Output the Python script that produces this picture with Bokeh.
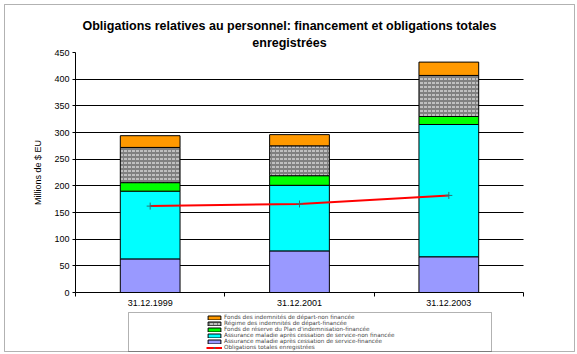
import numpy as np
from bokeh.plotting import figure
from bokeh.models import Range1d, FixedTicker, Legend, LegendItem, BoxAnnotation, Label
from bokeh.embed import file_html
from bokeh.resources import INLINE

# ---- data ----
categories = ["31.12.1999", "31.12.2001", "31.12.2003"]
assurance_financee = [63, 78, 67]
assurance_non_financee = [127, 123, 248]
fonds_reserve = [16, 18, 15]
regime_indemnites = [66, 56, 77]
fonds_indemnites_non_financee = [22, 21, 25]
obligations_totales = [162, 166, 182]
y_ticks = [0, 50, 100, 150, 200, 250, 300, 350, 400, 450]

labels = [
    "Assurance maladie après cessation de service-financée",
    "Assurance maladie après cessation de service-non financée",
    "Fonds de réserve du Plan d'indemnisation-financée",
    "Régime des indemnités de départ-financée",
    "Fonds des indemnités de départ-non financée",
]
line_label = "Obligations totales enregistrées"
title_lines = ["Obligations relatives au personnel: financement et obligations totales",
               "enregistrées"]

FONT = "Liberation Sans"
series = [assurance_financee, assurance_non_financee, fonds_reserve,
          regime_indemnites, fonds_indemnites_non_financee]
colors = ["#9999FF", "#00FFFF", "#00FF00", "#808080", "#FF9900"]
hatches = [" ", " ", " ", "horizontal_dash", " "]

n = len(categories)
x = [2 * i + 1 for i in range(n)]

# The plot frame covers the whole canvas; the value axes sit inside it.
W, H = 577, 354
ax_left, ax_right, ax_top, ax_bottom = 75, 523, 52, 292   # pixel box of the value area
ppx = (ax_right - ax_left) / (2.0 * n)
ppy = (ax_bottom - ax_top) / float(y_ticks[-1])
x_range = Range1d(-ax_left / ppx, 2 * n + (W - ax_right) / ppx)
y_range = Range1d(-(H - ax_bottom) / ppy, y_ticks[-1] + ax_top / ppy)

p = figure(width=W, height=H, x_range=x_range, y_range=y_range,
           output_backend="svg", toolbar_location=None, min_border=0,
           min_border_left=0, min_border_right=0, min_border_top=0,
           min_border_bottom=0, title=None)
p.outline_line_color = None
p.background_fill_color = "white"
p.border_fill_color = "white"

# chart border and legend frame
p.add_layout(BoxAnnotation(left=4, right=574, top=4, bottom=351,
                           left_units="canvas", right_units="canvas",
                           top_units="canvas", bottom_units="canvas",
                           fill_alpha=0, line_color="black", line_width=1))
p.add_layout(BoxAnnotation(left=128, right=491, top=312, bottom=351,
                           left_units="canvas", right_units="canvas",
                           top_units="canvas", bottom_units="canvas",
                           fill_alpha=0, line_color="black", line_width=1))

# title (two centred lines)
for txt, ty in zip(title_lines, [25, 42]):
    p.add_layout(Label(x=289, y=ty, x_units="canvas", y_units="canvas", text=txt,
                       text_align="center", text_baseline="middle", text_font=FONT,
                       text_font_size="12.5px", text_font_style="bold",
                       text_color="black"))

# grid
p.xgrid.visible = False
p.ygrid.ticker = FixedTicker(ticks=y_ticks[1:-1])
p.ygrid.grid_line_color = "black"
p.ygrid.grid_line_width = 1
p.ygrid[0].cross_bounds = (0, 2 * n)

# y axis, fixed at x = 0
p.yaxis.fixed_location = 0
p.yaxis.ticker = FixedTicker(ticks=y_ticks)
p.yaxis.bounds = (y_ticks[0], y_ticks[-1])
p.yaxis.axis_label = "Millions de $ EU"
p.yaxis.axis_label_text_font = FONT
p.yaxis.axis_label_text_font_size = "9px"
p.yaxis.axis_label_text_font_style = "normal"
p.yaxis.axis_label_text_color = "black"
p.yaxis.axis_label_standoff = 8
p.yaxis.major_tick_in = 0
p.yaxis.major_tick_out = 3
p.yaxis.minor_tick_line_color = None
p.yaxis.major_label_standoff = 3

# x axis, fixed at y = 0
p.xaxis.fixed_location = 0
p.xaxis.bounds = (0, 2 * n)
p.xaxis.ticker = FixedTicker(ticks=x, minor_ticks=[2 * i for i in range(n + 1)])
p.xaxis.major_label_overrides = {xi: c for xi, c in zip(x, categories)}
p.xaxis.major_tick_line_color = None
p.xaxis.major_tick_in = 0
p.xaxis.major_tick_out = 0
p.xaxis.minor_tick_in = 0
p.xaxis.minor_tick_out = 4
p.xaxis.minor_tick_line_color = "black"
p.xaxis.major_label_standoff = 3

for ax in (p.xaxis, p.yaxis):
    ax.axis_line_color = "black"
    ax.major_label_text_font = FONT
    ax.major_label_text_font_size = "9px"
    ax.major_label_text_color = "black"

# stacked bars
bottom = np.zeros(n)
bar_renderers = []
for vals, col, hatch in zip(series, colors, hatches):
    vals = np.array(vals, dtype=float)
    r = p.vbar(x=x, width=0.8, bottom=bottom.tolist(), top=(bottom + vals).tolist(),
               fill_color=col, line_color="black", line_width=1,
               hatch_pattern=hatch, hatch_color="white", hatch_scale=4, hatch_weight=1)
    bar_renderers.append(r)
    bottom = bottom + vals

# total line
lr = p.line(x=x, y=obligations_totales, line_color="#FF0000", line_width=2)
sr = p.scatter(x=x, y=obligations_totales, marker="cross", size=7,
               line_color="#2F7070", line_width=1)

items = [LegendItem(label=labels[i], renderers=[bar_renderers[i]]) for i in range(4, -1, -1)]
items.append(LegendItem(label=line_label, renderers=[lr, sr]))
legend = Legend(items=items, location=(206, 4), orientation="vertical",
                padding=0, margin=0, spacing=0, glyph_height=5, glyph_width=16,
                label_height=5, label_standoff=2, label_text_font="DejaVu Sans",
                label_text_font_size="5.7px",
                border_line_color=None, background_fill_alpha=0)
p.add_layout(legend, "center")

open("out.html", "w").write(file_html(p, INLINE))
